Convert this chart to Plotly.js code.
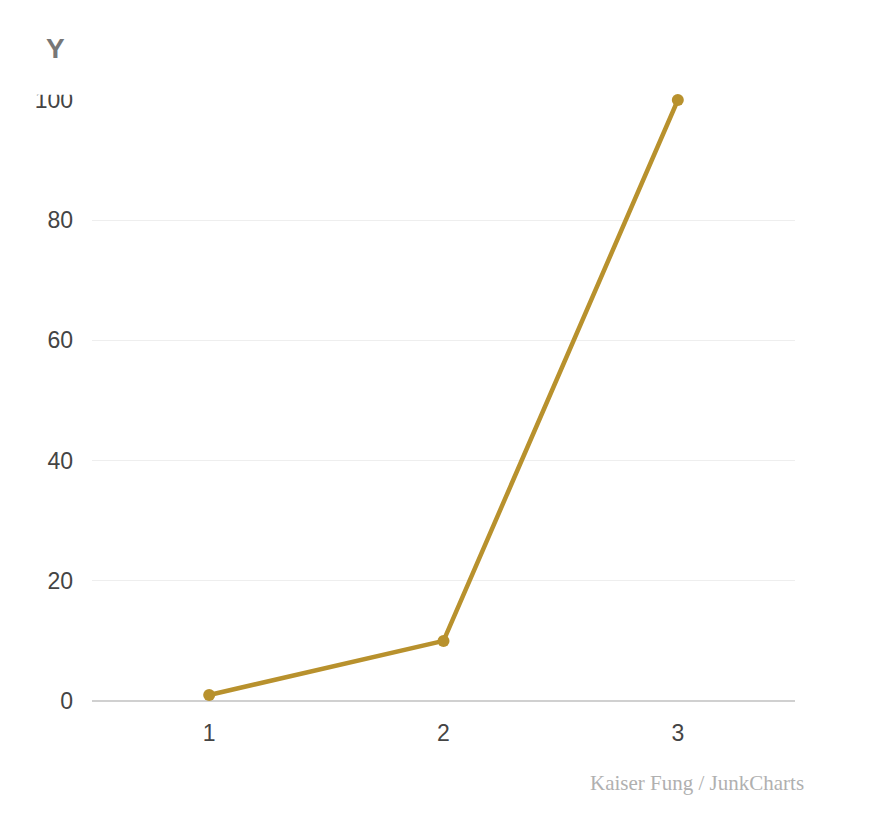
<!DOCTYPE html>
<html>
<head>
<meta charset="utf-8">
<script src="https://cdn.plot.ly/plotly-3.0.1.min.js"></script>
<style>html,body{margin:0;padding:0;background:#fff;}#chart{width:886px;height:834px;}</style>
</head>
<body>
<div id="chart"></div>
<script>
const xValues = [1, 2, 3];
const yValues = [1, 10, 100];
const yTicks = [0, 20, 40, 60, 80, 100];
const xTicks = [1, 2, 3];
const yTitle = "Y";
const caption = "Kaiser Fung / JunkCharts";

const lineColor = "#B8912D";

const trace = {
  x: xValues,
  y: yValues,
  type: "scatter",
  mode: "lines+markers",
  line: {color: lineColor, width: 4.5},
  marker: {color: lineColor, size: 12},
  cliponaxis: false,
  hoverinfo: "skip"
};

const layout = {
  width: 886,
  height: 834,
  margin: {l: 92, r: 91, t: 100, b: 133},
  paper_bgcolor: "#fff",
  plot_bgcolor: "#fff",
  showlegend: false,
  font: {family: "Liberation Sans, Arial, sans-serif", color: "#444"},
  xaxis: {
    range: [0.5, 3.5],
    tickvals: xTicks,
    ticktext: xTicks.map(String),
    showgrid: false,
    zeroline: false,
    showline: false,
    ticks: "",
    ticklabelstandoff: 16,
    tickfont: {size: 23, color: "#444"},
    fixedrange: true
  },
  yaxis: {
    range: [0, 100],
    tickvals: yTicks,
    ticktext: yTicks.map(String),
    showgrid: true,
    gridcolor: "#eeeeee",
    gridwidth: 1,
    zeroline: true,
    zerolinecolor: "#d0d0d0",
    zerolinewidth: 2,
    showline: false,
    ticks: "",
    ticklabelstandoff: 18,
    tickfont: {size: 23, color: "#444"},
    fixedrange: true
  },
  annotations: [
    {
      text: "<b>" + yTitle + "</b>",
      xref: "paper", yref: "paper",
      x: -0.052, y: 1.0, yshift: 52,
      xanchor: "center", yanchor: "middle",
      showarrow: false,
      font: {size: 28, color: "#777", family: "Liberation Sans, Arial, sans-serif"}
    },
    {
      text: caption,
      xref: "paper", yref: "paper",
      x: 1.0, y: 0, xshift: 11, yshift: -82,
      xanchor: "right", yanchor: "middle",
      showarrow: false,
      font: {size: 21, color: "#b0b0b0", family: "Liberation Serif, DejaVu Serif, serif"}
    }
  ],
  shapes: [
    {
      type: "rect", layer: "above",
      xref: "paper", yref: "paper",
      x0: -0.09, x1: -0.015, y0: 1.0087, y1: 1.035,
      fillcolor: "#fff", line: {width: 0}
    }
  ]
};

Plotly.newPlot("chart", [trace], layout, {displayModeBar: false, staticPlot: true});
</script>
</body>
</html>
